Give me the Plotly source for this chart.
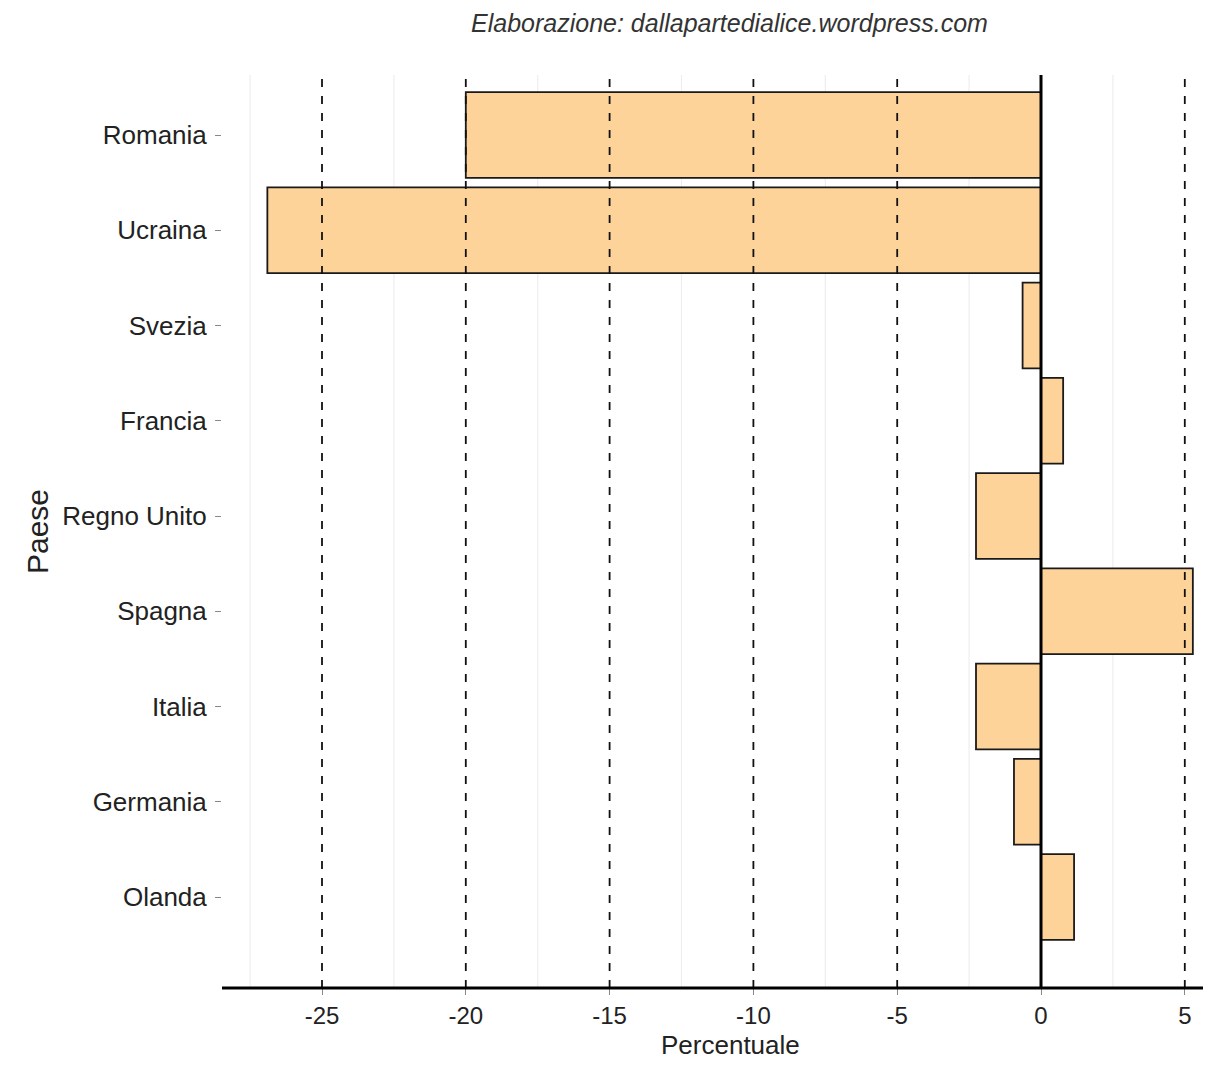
import plotly.graph_objects as go

countries = ["Olanda", "Germania", "Italia", "Spagna", "Regno Unito",
             "Francia", "Svezia", "Ucraina", "Romania"]
values = [1.15, -0.94, -2.26, 5.28, -2.26, 0.77, -0.64, -26.9, -20.0]
major_ticks = [-25, -20, -15, -10, -5, 0, 5]
minor_ticks = [-27.5, -22.5, -17.5, -12.5, -7.5, -2.5, 2.5]

OFF = 8  # default body margin of the html page
W, H = 1211 - 2 * OFF, 1069 - 2 * OFF
ML, MR, MT = 222 - OFF, 0, 75 - OFF
MB = H + OFF - 988
PW, PH = W - ML - MR, H - MT - MB

X0_PAGE, PX_PER_UNIT = 1041, 28.76
X_RANGE = [(222 - X0_PAGE) / PX_PER_UNIT, (OFF + W - X0_PAGE) / PX_PER_UNIT]


def px_x(page_x):
    return (page_x - OFF - ML) / PW


def px_y(page_y):
    return 1 - (page_y - OFF - MT) / PH


FONT = "Liberation Sans, Arial, sans-serif"

fig = go.Figure()
fig.add_trace(go.Bar(
    x=values, y=countries, orientation="h", width=0.9,
    marker=dict(color="#FDD39A", line=dict(color="#1a1a1a", width=1.8)),
    hoverinfo="x+y",
))

shapes = []
for v in minor_ticks:
    shapes.append(dict(type="line", xref="x", yref="paper", x0=v, x1=v, y0=0, y1=1,
                       line=dict(color="#EEEEEE", width=1.2), layer="below"))
for v in major_ticks:
    if v == 0:
        continue
    shapes.append(dict(type="line", xref="x", yref="paper", x0=v, x1=v, y0=0, y1=1,
                       line=dict(color="#111111", width=1.8, dash="8px,9px"), layer="above"))
shapes.append(dict(type="line", xref="x", yref="paper", x0=0, x1=0, y0=0, y1=1,
                   line=dict(color="#000000", width=3), layer="above"))
shapes.append(dict(type="line", xref="paper", yref="paper", x0=0, x1=1, y0=0, y1=0,
                   line=dict(color="#000000", width=3), layer="above"))

fig.update_layout(
    width=W, height=H,
    margin=dict(l=ML, r=MR, t=MT, b=MB, pad=0),
    paper_bgcolor="white", plot_bgcolor="white",
    showlegend=False,
    shapes=shapes,
    font=dict(family=FONT, color="#222222"),
    xaxis=dict(
        range=X_RANGE, tickvals=major_ticks,
        ticktext=[str(v) for v in major_ticks],
        showgrid=False, zeroline=False, showline=False,
        ticks="outside", ticklen=6, tickwidth=1.2, tickcolor="#888888",
        tickfont=dict(size=24, color="#222222"),
    ),
    yaxis=dict(
        range=[-0.955, 8.63], categoryorder="array", categoryarray=countries,
        showgrid=False, zeroline=False, showline=False,
        ticks="outside", ticklen=6, tickwidth=1.2, tickcolor="#888888",
        tickfont=dict(size=26, color="#222222"),
        ticklabelstandoff=3,
        title=dict(text="Paese", font=dict(size=30, color="#222222"), standoff=4),
    ),
    annotations=[
        dict(
            text="<i>Elaborazione: dallapartedialice.wordpress.com</i>",
            xref="paper", yref="paper", x=px_x(729), y=px_y(23),
            xanchor="center", yanchor="middle", showarrow=False,
            font=dict(size=25, color="#333333", family=FONT),
        ),
        dict(
            text="Percentuale",
            xref="paper", yref="paper", x=px_x(730), y=px_y(1045),
            xanchor="center", yanchor="middle", showarrow=False,
            font=dict(size=26, color="#222222", family=FONT),
        ),
    ],
)

fig.write_html("out.html")
